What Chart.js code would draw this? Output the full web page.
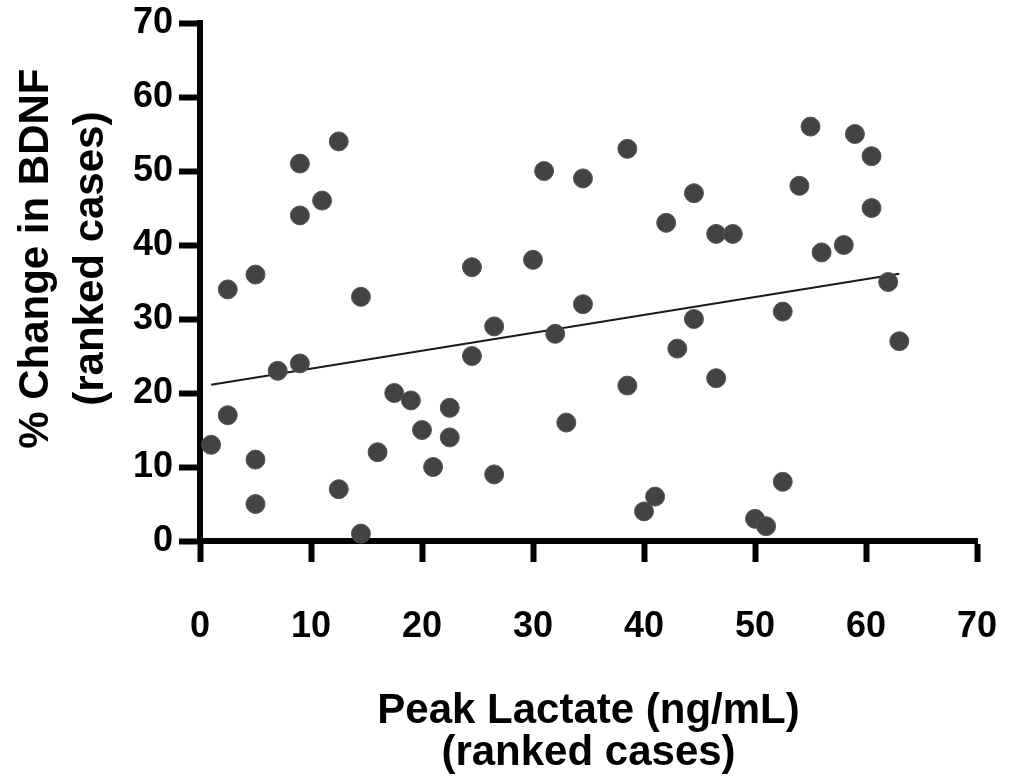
<!DOCTYPE html>
<html>
<head>
<meta charset="utf-8">
<title>Peak Lactate vs BDNF</title>
<script src="https://cdn.jsdelivr.net/npm/chart.js@4.4.1/dist/chart.umd.min.js"></script>
<style>
    body { margin: 0; background: #fff; }
    #wrap { width: 1016px; height: 776px; }
</style>
</head>
<body>
<div id="wrap"><canvas id="graficoLactato"></canvas></div>
<script>
// ranked cases
const lactateRank = [1, 2.5, 2.5, 5, 5, 5, 7, 9, 9, 9, 11, 12.5, 12.5, 14.5, 14.5, 16, 17.5, 19, 20, 21,
    22.5, 22.5, 24.5, 24.5, 26.5, 26.5, 30, 31, 32, 33, 34.5, 34.5, 38.5, 38.5, 40, 41, 42, 43,
    44.5, 44.5, 46.5, 46.5, 48, 50, 51, 52.5, 52.5, 54, 55, 56, 58, 59, 60.5, 60.5, 62, 63];
const bdnfRank = [13, 34, 17, 36, 11, 5, 23, 51, 44, 24, 46, 54, 7, 33, 1, 12, 20, 19, 15, 10,
    18, 14, 37, 25, 9, 29, 38, 50, 28, 16, 49, 32, 53, 21, 4, 6, 43, 26,
    47, 30, 41.5, 22, 41.5, 3, 2, 8, 31, 48, 56, 39, 40, 55, 52, 45, 35, 27];

// fitted line, end points as drawn
const fitX = [1, 63];
const fitY = [21.1, 36.1];

const xTicks = [0, 10, 20, 30, 40, 50, 60, 70];
const yTicks = [0, 10, 20, 30, 40, 50, 60, 70];

const fonte = 'Liberation Sans, Arial, Helvetica, sans-serif';

const pontos = lactateRank.map((x, i) => ({ x: x, y: bdnfRank[i] }));
const linha = fitX.map((x, i) => ({ x: x, y: fitY[i] }));

const ctx = document.getElementById('graficoLactato').getContext('2d');

new Chart(ctx, {
    type: 'scatter',
    data: {
        datasets: [
            {
                data: pontos,
                backgroundColor: '#434343',
                borderColor: '#555555',
                borderWidth: 1,
                pointRadius: 9.5,
                clip: false
            },
            {
                type: 'line',
                data: linha,
                borderColor: '#1a1a1a',
                borderWidth: 2,
                pointRadius: 0,
                fill: false,
                clip: false
            }
        ]
    },
    options: {
        responsive: true,
        maintainAspectRatio: false,
        animation: false,
        layout: {
            padding: { left: 0, right: 39, top: 23, bottom: 0 }
        },
        plugins: {
            legend: { display: false },
            tooltip: { enabled: false }
        },
        scales: {
            x: {
                type: 'linear',
                min: 0,
                max: 70,
                z: 1,
                afterBuildTicks: (scale) => { scale.ticks = xTicks.map(v => ({ value: v })); },
                afterFit: (scale) => { scale.height = 235; },
                border: { display: true, color: '#000', width: 6 },
                grid: { drawOnChartArea: false, tickLength: 21, tickWidth: 6, tickColor: '#000' },
                ticks: {
                    color: '#000',
                    padding: 11,
                    // tall line box pushes the labels down without widening the side padding
                    font: { family: fonte, size: 36, weight: 'bold', lineHeight: 3 }
                },
                title: {
                    display: true,
                    text: ['Peak Lactate (ng/mL)', '(ranked cases)'],
                    color: '#000',
                    padding: { top: 0, bottom: 2 },
                    font: { family: fonte, size: 42, weight: 'bold', lineHeight: 1.0 }
                }
            },
            y: {
                type: 'linear',
                min: 0,
                max: 70,
                z: 1,
                afterBuildTicks: (scale) => { scale.ticks = yTicks.map(v => ({ value: v })); },
                afterFit: (scale) => { scale.width = 200; },
                border: { display: true, color: '#000', width: 6 },
                grid: { drawOnChartArea: false, tickLength: 21, tickWidth: 6, tickColor: '#000' },
                ticks: {
                    color: '#000',
                    padding: 6,
                    font: { family: fonte, size: 36, weight: 'bold', lineHeight: 0.9 }
                },
                title: {
                    display: true,
                    // leading spaces nudge the title upward like in the figure
                    text: ['    % Change in BDNF', '    (ranked cases)'],
                    color: '#000',
                    padding: { top: 8, bottom: 0 },
                    font: { family: fonte, size: 42, weight: 'bold', lineHeight: 1.33 }
                }
            }
        }
    }
});
</script>
</body>
</html>
